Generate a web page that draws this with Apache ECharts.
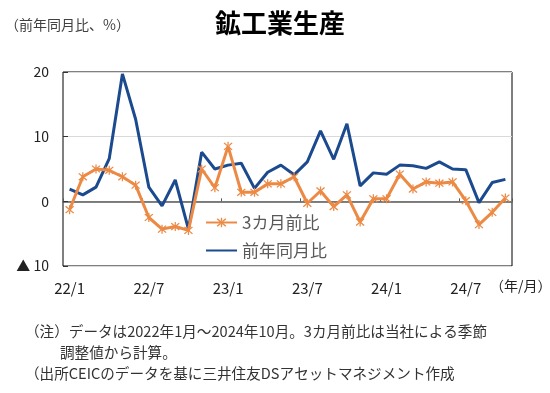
<!DOCTYPE html>
<html><head><meta charset="utf-8">
<script src="https://cdn.jsdelivr.net/npm/echarts@6/dist/echarts.min.js"></script>
<style>html,body{margin:0;padding:0;background:#fff}#c{width:550px;height:393px}</style>
</head><body><div id="c"></div>
<script>
var categories = ['22/1','22/2','22/3','22/4','22/5','22/6','22/7','22/8','22/9','22/10','22/11','22/12',
  '23/1','23/2','23/3','23/4','23/5','23/6','23/7','23/8','23/9','23/10','23/11','23/12',
  '24/1','24/2','24/3','24/4','24/5','24/6','24/7','24/8','24/9','24/10'];
var mom3 = [-1.3,3.8,5.0,4.8,3.8,2.5,-2.5,-4.3,-3.9,-4.5,5.0,2.1,
  8.5,1.4,1.4,2.7,2.7,3.8,-0.3,1.6,-0.8,1.0,-3.2,0.4,
  0.4,4.2,1.9,3.0,2.8,3.0,0.1,-3.6,-1.7,0.5];
var yoy = [1.9,1.0,2.2,6.6,19.7,12.7,2.2,-0.7,3.3,-4.3,7.6,5.0,
  5.6,5.9,2.0,4.5,5.6,4.1,6.1,10.9,6.5,12.0,2.4,4.4,
  4.2,5.6,5.5,5.1,6.1,5.0,4.9,-0.2,2.9,3.4];
var shownLabels = ['22/1','22/7','23/1','23/7','24/1','24/7'];

var FONT = '"Noto Sans CJK JP","Noto Sans",sans-serif';
var star = 'path://M-0.6,-5L0.6,-5L0.6,5L-0.6,5Z M-4.3,-3.4L-3.4,-4.3L4.3,3.4L3.4,4.3Z M4.3,-3.4L3.4,-4.3L-4.3,3.4L-3.4,4.3Z';
var chart = echarts.init(document.getElementById('c'));
chart.setOption({
  animation:false,
  textStyle:{fontFamily:FONT},
  grid:{left:63,right:38,top:72,bottom:127,show:true,borderColor:'#000',borderWidth:1,backgroundColor:'transparent'},
  legend:{
    orient:'vertical', left:205, top:214, padding:0, itemGap:11, itemWidth:31, itemHeight:12,
    textStyle:{fontSize:17,color:'#595959',fontFamily:FONT},
    data:[{name:'3カ月前比'},{name:'前年同月比',itemStyle:{opacity:0}}]
  },
  xAxis:[{
    type:'category', data:categories, boundaryGap:true,
    axisLine:{show:false,onZero:false}, axisTick:{show:false},
    axisLabel:{interval:0, margin:15, fontSize:15, color:'#222', fontFamily:FONT,
      formatter:function(v){return shownLabels.indexOf(v)>=0?v:'';}},
    splitLine:{show:false}
  },{
    type:'category', data:categories, boundaryGap:true, position:'bottom',
    axisLine:{show:true,onZero:true,lineStyle:{color:'#595959',width:1.5}},
    axisTick:{show:true,inside:true,length:3,interval:5,alignWithLabel:false,lineStyle:{color:'#595959'}},
    axisLabel:{show:false}, splitLine:{show:false}
  }],
  yAxis:{
    type:'value', min:-10, max:20, interval:10,
    axisLine:{show:false}, axisTick:{show:true,inside:true,length:5,lineStyle:{color:'#333'}},
    splitLine:{show:true,lineStyle:{color:'#d9d9d9',width:1}},
    axisLabel:{fontSize:14,color:'#222',margin:14,fontFamily:FONT,
      formatter:function(v){return v<0?'▲ '+(-v):String(v);}}
  },
  series:[{
    name:'前年同月比', type:'line', data:yoy, xAxisIndex:0, symbol:'none',
    lineStyle:{color:'#1B4A8E',width:3}, itemStyle:{color:'#1B4A8E'}, z:2
  },{
    name:'3カ月前比', type:'line', data:mom3, xAxisIndex:0, symbol:star, symbolSize:9,
    lineStyle:{color:'#EC8A45',width:3}, itemStyle:{color:'#EC8A45'}, z:3
  }],
  graphic:[
    {type:'text',left:5,top:18,style:{text:'（前年同月比、%）',fontSize:14,fill:'#404040',fontFamily:FONT}},
    {type:'text',left:215,top:10,style:{text:'鉱工業生産',fontSize:26,fontWeight:'bold',fill:'#000',fontFamily:FONT}},
    {type:'text',left:490,top:279,style:{text:'（年/月）',fontSize:14,fill:'#222',fontFamily:FONT}},
    {type:'text',left:25,top:324,style:{text:'（注）データは2022年1月～2024年10月。3カ月前比は当社による季節',fontSize:14.6,fill:'#333',fontFamily:FONT}},
    {type:'text',left:60,top:345,style:{text:'調整値から計算。',fontSize:14.6,fill:'#333',fontFamily:FONT}},
    {type:'text',left:25,top:366,style:{text:'（出所CEICのデータを基に三井住友DSアセットマネジメント作成',fontSize:14.6,fill:'#333',fontFamily:FONT}}
  ]
});
</script></body></html>
